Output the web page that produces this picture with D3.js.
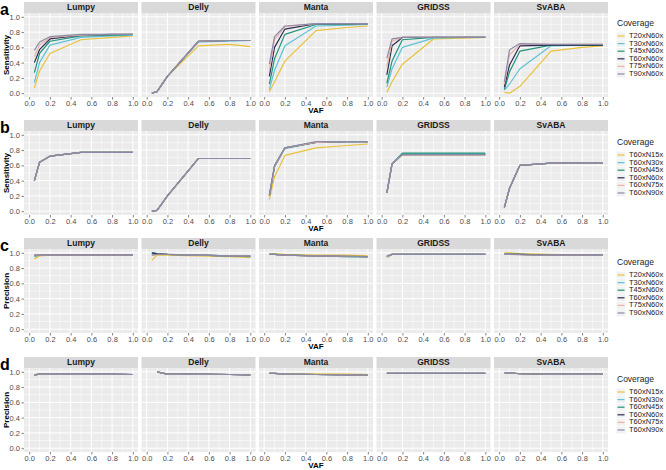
<!DOCTYPE html>
<html><head><meta charset="utf-8">
<script src="https://cdn.jsdelivr.net/npm/d3@7"></script>
<style>
html,body{margin:0;padding:0;background:#fff;}
svg{display:block;font-family:"Liberation Sans",Arial,sans-serif;}
</style></head>
<body><svg id="chart" width="666" height="470"></svg>
<script>
// ---------- data ----------
const vaf = [0.05, 0.1, 0.2, 0.5, 0.8, 1.0];
const tools = ["Lumpy", "Delly", "Manta", "GRIDSS", "SvABA"];
const tumorSeries = ["T20xN60x", "T30xN60x", "T45xN60x", "T60xN60x", "T75xN60x", "T90xN60x"];
const normalSeries = ["T60xN15x", "T60xN30x", "T60xN45x", "T60xN60x", "T60xN75x", "T60xN90x"];
const seriesColors = ["#E9C13A", "#5EC3D6", "#1E9479", "#2A2E55", "#EDB1A8", "#8A8AA6"];
const xTicks = [0, 0.2, 0.4, 0.6, 0.8, 1.0];
const yTicks = [0, 0.2, 0.4, 0.6, 0.8, 1.0];
const panelLetters = ["a", "b", "c", "d"];
const yTitles = ["Sensitivity", "Sensitivity", "Precision", "Precision"];

// (a) sensitivity, tumour coverage varies
const aLumpy = [
  [0.07, 0.29, 0.52, 0.70, 0.73, 0.75],
  [0.14, 0.40, 0.63, 0.73, 0.75, 0.76],
  [0.27, 0.52, 0.68, 0.75, 0.76, 0.77],
  [0.40, 0.57, 0.71, 0.76, 0.77, 0.77],
  [0.48, 0.63, 0.73, 0.76, 0.77, 0.77],
  [0.56, 0.67, 0.74, 0.77, 0.77, 0.77]];
const aDelly = [
  [0.00, 0.02, 0.22, 0.62, 0.64, 0.61],
  [0.00, 0.02, 0.22, 0.67, 0.68, 0.69],
  [0.00, 0.02, 0.22, 0.68, 0.69, 0.69],
  [0.00, 0.02, 0.22, 0.68, 0.69, 0.69],
  [0.00, 0.02, 0.22, 0.68, 0.69, 0.69],
  [0.00, 0.02, 0.22, 0.68, 0.69, 0.69]];
const aManta = [
  [0.02, 0.15, 0.42, 0.82, 0.86, 0.88],
  [0.05, 0.30, 0.62, 0.88, 0.89, 0.90],
  [0.12, 0.45, 0.77, 0.90, 0.90, 0.91],
  [0.22, 0.60, 0.84, 0.91, 0.91, 0.91],
  [0.30, 0.70, 0.87, 0.91, 0.91, 0.91],
  [0.38, 0.74, 0.88, 0.91, 0.91, 0.91]];
const aGridss = [
  [0.01, 0.15, 0.38, 0.71, 0.72, 0.73],
  [0.08, 0.32, 0.60, 0.72, 0.73, 0.73],
  [0.13, 0.42, 0.70, 0.73, 0.73, 0.73],
  [0.24, 0.62, 0.73, 0.73, 0.73, 0.73],
  [0.35, 0.68, 0.73, 0.73, 0.73, 0.73],
  [0.46, 0.71, 0.73, 0.73, 0.73, 0.73]];
const aSvaba = [
  [0.01, 0.00, 0.09, 0.55, 0.60, 0.62],
  [0.04, 0.12, 0.32, 0.62, 0.63, 0.63],
  [0.05, 0.28, 0.55, 0.63, 0.63, 0.63],
  [0.08, 0.37, 0.62, 0.63, 0.63, 0.63],
  [0.12, 0.50, 0.64, 0.64, 0.64, 0.64],
  [0.15, 0.57, 0.65, 0.64, 0.64, 0.64]];

// (b) sensitivity, normal coverage varies
const bLumpy = [
  [0.40, 0.64, 0.72, 0.77, 0.77, 0.77],
  [0.40, 0.64, 0.72, 0.77, 0.77, 0.77],
  [0.40, 0.64, 0.72, 0.77, 0.77, 0.77],
  [0.40, 0.64, 0.72, 0.77, 0.77, 0.77],
  [0.40, 0.64, 0.72, 0.77, 0.77, 0.77],
  [0.40, 0.64, 0.72, 0.77, 0.77, 0.77]];
const bDelly = [
  [0.00, 0.01, 0.20, 0.69, 0.69, 0.69],
  [0.00, 0.01, 0.20, 0.69, 0.69, 0.69],
  [0.00, 0.01, 0.20, 0.69, 0.69, 0.69],
  [0.00, 0.01, 0.20, 0.69, 0.69, 0.69],
  [0.00, 0.01, 0.20, 0.69, 0.69, 0.69],
  [0.00, 0.01, 0.20, 0.69, 0.69, 0.69]];
const bManta = [
  [0.15, 0.45, 0.73, 0.83, 0.86, 0.88],
  [0.20, 0.58, 0.82, 0.90, 0.91, 0.91],
  [0.20, 0.59, 0.83, 0.90, 0.91, 0.91],
  [0.20, 0.59, 0.83, 0.90, 0.91, 0.91],
  [0.20, 0.59, 0.83, 0.90, 0.91, 0.91],
  [0.21, 0.60, 0.83, 0.91, 0.91, 0.91]];
const bGridss = [
  [0.24, 0.62, 0.74, 0.74, 0.74, 0.74],
  [0.24, 0.62, 0.75, 0.75, 0.75, 0.75],
  [0.24, 0.62, 0.76, 0.76, 0.76, 0.76],
  [0.24, 0.62, 0.74, 0.74, 0.74, 0.74],
  [0.24, 0.62, 0.74, 0.74, 0.74, 0.74],
  [0.24, 0.62, 0.74, 0.74, 0.74, 0.74]];
const bSvaba = [
  [0.05, 0.30, 0.60, 0.63, 0.63, 0.63],
  [0.05, 0.30, 0.60, 0.63, 0.63, 0.63],
  [0.05, 0.30, 0.60, 0.63, 0.63, 0.63],
  [0.05, 0.30, 0.60, 0.63, 0.63, 0.63],
  [0.05, 0.30, 0.60, 0.63, 0.63, 0.63],
  [0.05, 0.30, 0.60, 0.63, 0.63, 0.63]];

// (c) precision, tumour coverage varies
const cLumpy = [
  [0.92, 0.96, 0.97, 0.97, 0.97, 0.97],
  [0.95, 0.97, 0.97, 0.97, 0.97, 0.97],
  [0.96, 0.97, 0.97, 0.97, 0.97, 0.97],
  [0.97, 0.97, 0.97, 0.97, 0.97, 0.97],
  [0.97, 0.97, 0.97, 0.97, 0.97, 0.97],
  [0.97, 0.97, 0.97, 0.97, 0.97, 0.97]];
const cDelly = [
  [0.90, 0.97, 0.97, 0.96, 0.95, 0.94],
  [0.98, 0.99, 0.98, 0.97, 0.96, 0.95],
  [1.00, 0.99, 0.98, 0.97, 0.96, 0.95],
  [1.00, 0.99, 0.98, 0.97, 0.96, 0.96],
  [0.97, 0.98, 0.98, 0.97, 0.96, 0.96],
  [0.97, 0.98, 0.98, 0.97, 0.96, 0.96]];
const cManta = [
  [0.98, 0.99, 0.98, 0.97, 0.97, 0.96],
  [0.98, 0.98, 0.97, 0.96, 0.95, 0.95],
  [0.98, 0.98, 0.97, 0.96, 0.95, 0.945],
  [0.98, 0.98, 0.97, 0.96, 0.955, 0.95],
  [0.98, 0.98, 0.97, 0.96, 0.955, 0.95],
  [0.98, 0.98, 0.97, 0.96, 0.955, 0.95]];
const cGridss = [
  [0.94, 0.98, 0.98, 0.98, 0.98, 0.98],
  [0.95, 0.98, 0.98, 0.98, 0.98, 0.98],
  [0.95, 0.98, 0.98, 0.98, 0.98, 0.98],
  [0.95, 0.98, 0.98, 0.98, 0.98, 0.98],
  [0.95, 0.98, 0.98, 0.98, 0.98, 0.98],
  [0.96, 0.98, 0.98, 0.98, 0.98, 0.98]];
const cSvaba = [
  [1.00, 1.00, 0.99, 0.98, 0.97, 0.97],
  [0.99, 0.98, 0.98, 0.97, 0.97, 0.97],
  [0.99, 0.98, 0.98, 0.97, 0.97, 0.97],
  [0.99, 0.98, 0.98, 0.97, 0.97, 0.97],
  [0.99, 0.98, 0.975, 0.97, 0.97, 0.97],
  [0.99, 0.98, 0.975, 0.97, 0.97, 0.97]];

// (d) precision, normal coverage varies
const dLumpy = [
  [0.96, 0.965, 0.965, 0.965, 0.965, 0.965],
  [0.96, 0.97, 0.97, 0.97, 0.97, 0.965],
  [0.96, 0.97, 0.97, 0.97, 0.97, 0.965],
  [0.96, 0.97, 0.97, 0.97, 0.97, 0.965],
  [0.96, 0.97, 0.97, 0.97, 0.97, 0.965],
  [0.96, 0.97, 0.97, 0.97, 0.97, 0.965]];
const dDelly = [
  [null, 1.00, 0.97, 0.97, 0.965, 0.96],
  [null, 1.00, 0.97, 0.97, 0.965, 0.96],
  [null, 1.00, 0.97, 0.97, 0.965, 0.96],
  [null, 1.00, 0.97, 0.97, 0.965, 0.96],
  [null, 1.00, 0.97, 0.97, 0.965, 0.96],
  [null, 1.00, 0.97, 0.97, 0.965, 0.96]];
const dManta = [
  [0.98, 0.98, 0.975, 0.975, 0.97, 0.965],
  [0.98, 0.98, 0.97, 0.965, 0.96, 0.955],
  [0.98, 0.98, 0.97, 0.965, 0.96, 0.955],
  [0.98, 0.98, 0.97, 0.965, 0.96, 0.955],
  [0.98, 0.98, 0.97, 0.965, 0.96, 0.955],
  [0.98, 0.98, 0.97, 0.965, 0.96, 0.955]];
const dGridss = [
  [0.98, 0.98, 0.98, 0.98, 0.98, 0.98],
  [0.98, 0.98, 0.98, 0.98, 0.98, 0.98],
  [0.98, 0.98, 0.98, 0.98, 0.98, 0.98],
  [0.98, 0.98, 0.98, 0.98, 0.98, 0.98],
  [0.98, 0.98, 0.98, 0.98, 0.98, 0.98],
  [0.98, 0.98, 0.98, 0.98, 0.98, 0.98]];
const dSvaba = [
  [0.99, 0.985, 0.975, 0.97, 0.97, 0.97],
  [0.99, 0.985, 0.975, 0.97, 0.97, 0.97],
  [0.99, 0.985, 0.975, 0.97, 0.97, 0.97],
  [0.99, 0.985, 0.975, 0.97, 0.97, 0.97],
  [0.99, 0.985, 0.975, 0.97, 0.97, 0.97],
  [0.99, 0.985, 0.975, 0.97, 0.97, 0.97]];

const rowData = [
  [aLumpy, aDelly, aManta, aGridss, aSvaba],
  [bLumpy, bDelly, bManta, bGridss, bSvaba],
  [cLumpy, cDelly, cManta, cGridss, cSvaba],
  [dLumpy, dDelly, dManta, dGridss, dSvaba]];
const rowSeries = [tumorSeries, normalSeries, tumorSeries, normalSeries];

// ---------- layout ----------
const rowTops = [13, 131, 249, 368];
const plotH = 84, stripH = 11;
const panelLeft0 = 24, panelW = 114, panelPitch = 117.5;
const legendTitleY = [24, 143, 263, 380];
const legendX = 617, legendStep = 7.6;

const svg = d3.select("#chart");
const tickCol = "#4D4D4D";
const fontFam = "Liberation Sans, Arial, sans-serif";

rowData.forEach((panels, r) => {
  const top = rowTops[r];
  const g = svg.append("g");
  const y = d3.scaleLinear().domain([-0.05, 1.05]).range([top + plotH, top]);

  panels.forEach((series, t) => {
    const left = panelLeft0 + t * panelPitch;
    const x = d3.scaleLinear().domain([-0.05, 1.05]).range([left, left + panelW]);
    const pg = g.append("g");
    // strip
    pg.append("rect").attr("x", left).attr("y", top - stripH).attr("width", panelW).attr("height", stripH).attr("fill", "#D9D9D9");
    pg.append("text").attr("x", left + panelW / 2).attr("y", top - stripH / 2 + 0.5)
      .attr("text-anchor", "middle").attr("dominant-baseline", "middle")
      .attr("font-size", 8.5).attr("font-weight", "bold").attr("fill", "#1A1A1A").text(tools[t]);
    // panel bg
    pg.append("rect").attr("x", left).attr("y", top).attr("width", panelW).attr("height", plotH).attr("fill", "#EBEBEB");
    // minor grid
    const minor = [0.1, 0.3, 0.5, 0.7, 0.9];
    pg.selectAll(".vmin").data(minor).join("line")
      .attr("x1", d => x(d)).attr("x2", d => x(d)).attr("y1", top).attr("y2", top + plotH)
      .attr("stroke", "#fff").attr("stroke-width", 0.5);
    pg.selectAll(".hmin").data(minor).join("line")
      .attr("x1", left).attr("x2", left + panelW).attr("y1", d => y(d)).attr("y2", d => y(d))
      .attr("stroke", "#fff").attr("stroke-width", 0.5);
    // major grid
    pg.selectAll(".vmaj").data(xTicks).join("line")
      .attr("x1", d => x(d)).attr("x2", d => x(d)).attr("y1", top).attr("y2", top + plotH)
      .attr("stroke", "#fff").attr("stroke-width", 1);
    pg.selectAll(".hmaj").data(yTicks).join("line")
      .attr("x1", left).attr("x2", left + panelW).attr("y1", d => y(d)).attr("y2", d => y(d))
      .attr("stroke", "#fff").attr("stroke-width", 1);
    // x axis
    const xa = pg.append("g").attr("transform", `translate(0,${top + plotH})`)
      .call(d3.axisBottom(x).tickValues(xTicks).tickFormat(d3.format(".1f")).tickSize(2.5).tickPadding(1));
    xa.select(".domain").remove();
    xa.selectAll("line").attr("stroke", "#333").attr("stroke-width", 0.6);
    xa.selectAll("text").attr("font-size", 7.5).attr("fill", tickCol).attr("font-family", fontFam);
    // lines
    const line = d3.line().defined(d => d[1] != null).x(d => x(d[0])).y(d => y(d[1]));
    series.forEach((vals, s) => {
      pg.append("path").datum(vaf.map((v, i) => [v, vals[i]]))
        .attr("d", line).attr("fill", "none").attr("stroke", seriesColors[s])
        .attr("stroke-width", 1.2).attr("stroke-linejoin", "round");
    });
  });

  // y axis
  const ya = g.append("g").attr("transform", `translate(${panelLeft0},0)`)
    .call(d3.axisLeft(y).tickValues(yTicks).tickFormat(d3.format(".1f")).tickSize(2.5).tickPadding(1.5));
  ya.select(".domain").remove();
  ya.selectAll("line").attr("stroke", "#333").attr("stroke-width", 0.6);
  ya.selectAll("text").attr("font-size", 7.5).attr("fill", tickCol).attr("font-family", fontFam);

  // y title
  g.append("text").attr("transform", `translate(6.5,${top + plotH / 2}) rotate(-90)`)
    .attr("text-anchor", "middle").attr("dominant-baseline", "middle")
    .attr("font-size", 8).attr("font-weight", "bold").attr("fill", "#000").text(yTitles[r]);
  // x title
  const xMid = panelLeft0 + (4 * panelPitch + panelW) / 2;
  g.append("text").attr("x", xMid).attr("y", top + plotH + 16)
    .attr("text-anchor", "middle").attr("font-size", 8).attr("font-weight", "bold").attr("fill", "#000").text("VAF");
  // panel letter
  g.append("text").attr("x", 0).attr("y", top + 1.5)
    .attr("font-size", 16).attr("font-weight", "bold").attr("fill", "#000").text(panelLetters[r]);

  // legend
  const ly = legendTitleY[r];
  const lg = g.append("g");
  lg.append("text").attr("x", legendX).attr("y", ly).attr("dominant-baseline", "middle")
    .attr("font-size", 8.5).attr("fill", "#1A1A1A").text("Coverage");
  rowSeries[r].forEach((name, s) => {
    const yy = ly + 12 + s * legendStep;
    lg.append("rect").attr("x", legendX - 0.5).attr("y", yy - legendStep / 2 + 0.3).attr("width", 9).attr("height", legendStep - 0.6).attr("fill", "#F2F2F2");
    lg.append("line").attr("x1", legendX + 0.5).attr("x2", legendX + 7.5).attr("y1", yy).attr("y2", yy)
      .attr("stroke", seriesColors[s]).attr("stroke-width", 1.2);
    lg.append("text").attr("x", legendX + 12).attr("y", yy).attr("dominant-baseline", "middle")
      .attr("font-size", 7.5).attr("fill", "#1A1A1A").text(name);
  });
});
</script>
</body></html>
